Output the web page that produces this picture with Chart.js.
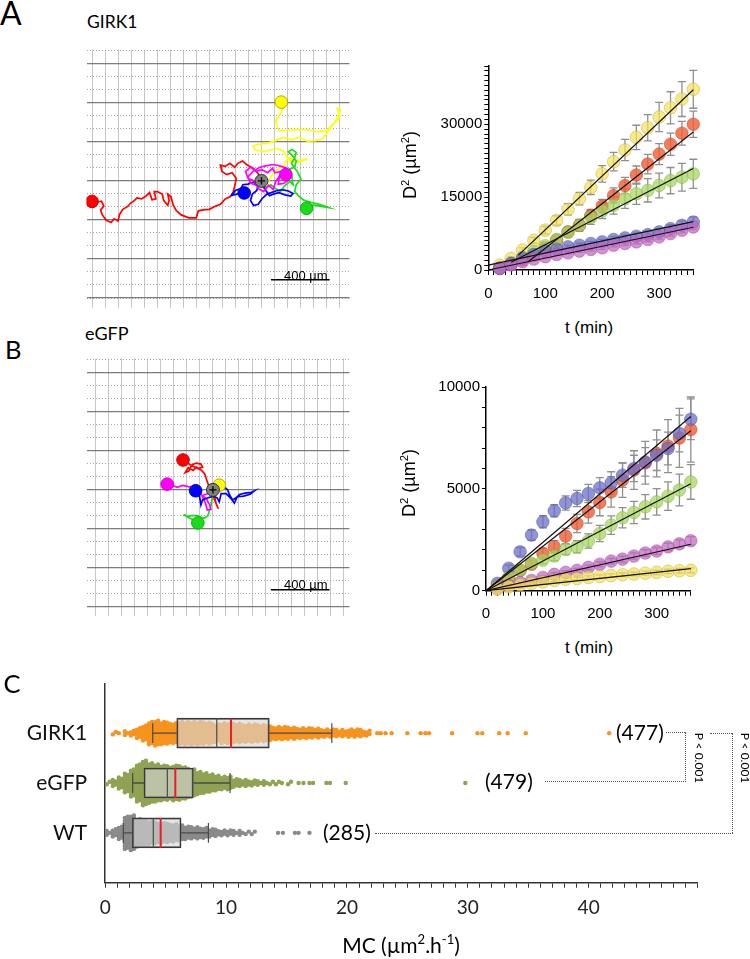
<!DOCTYPE html>
<html>
<head>
<meta charset="utf-8">
<title>GIRK1 / eGFP motility</title>
<script src="https://cdn.jsdelivr.net/npm/chart.js@4.4.1/dist/chart.umd.min.js"></script>
<style>
	body { margin: 0; width: 750px; height: 959px; position: relative; overflow: hidden; background: #fff; font-family: Lato, 'Liberation Sans', sans-serif; color: #000; }
	canvas { position: absolute; }
	.t { position: absolute; white-space: nowrap; line-height: 1; }
	.arial { font-family: 'Liberation Sans', Arial, sans-serif; }
	.c { transform: translate(-50%, -50%); }
	.up { transform: translate(-50%, -50%) rotate(-90deg); }
	.down { transform: translate(-50%, -50%) rotate(90deg); }
	.dl { position: absolute; border: 0 dotted #555; }
	sup { font-size: 0.62em; vertical-align: 0.62em; line-height: 0; }
</style>
</head>
<body>
<canvas id="trajA" width="278" height="273" style="left:79px;top:42px"></canvas>
<canvas id="msdA" width="315" height="255" style="left:395px;top:55px"></canvas>
<canvas id="trajB" width="278" height="272" style="left:79px;top:351px"></canvas>
<canvas id="msdB" width="315" height="255" style="left:395px;top:376px"></canvas>
<canvas id="mc" width="750" height="299" style="left:0;top:660px"></canvas>

<div class="t" style="left:0;top:-3.5px;font-size:32px">A</div>
<div class="t" style="left:87px;top:13px;font-size:17.5px">GIRK1</div>
<div class="t arial" style="left:284px;top:268.5px;font-size:13px">400 µm</div>
<div class="t arial up" style="left:409.5px;top:165px;font-size:18px">D<sup>2</sup> (µm<sup>2</sup>)</div>
<div class="t arial c" style="left:589px;top:326.5px;font-size:17px">t (min)</div>

<div class="t" style="left:5px;top:337.3px;font-size:25.5px">B</div>
<div class="t" style="left:85px;top:323.6px;font-size:18px">eGFP</div>
<div class="t arial" style="left:284px;top:578px;font-size:13px">400 µm</div>
<div class="t arial up" style="left:408.5px;top:482.7px;font-size:18px">D<sup>2</sup> (µm<sup>2</sup>)</div>
<div class="t arial c" style="left:589px;top:646.5px;font-size:17px">t (min)</div>

<div class="t" style="left:3.5px;top:670.6px;font-size:25.5px">C</div>
<div class="t" style="left:616px;top:720.7px;font-size:21px">(477)</div>
<div class="t" style="left:485px;top:770.2px;font-size:21px">(479)</div>
<div class="t" style="left:323px;top:821px;font-size:21px">(285)</div>
<div class="t down" style="left:699px;top:758px;font-size:12px">P &lt; 0.001</div>
<div class="t down" style="left:745px;top:758px;font-size:12px">P &lt; 0.001</div>
<div class="t c" style="left:401px;top:944.2px;font-size:21px">MC (µm<sup>2</sup>.h<sup>-1</sup>)</div>

<div class="dl" style="left:666px;top:732px;width:19px;border-top-width:1px"></div>
<div class="dl" style="left:685px;top:732px;height:50px;border-left-width:1px"></div>
<div class="dl" style="left:545px;top:781px;width:141px;border-top-width:1px"></div>
<div class="dl" style="left:710px;top:733px;width:22px;border-top-width:1px"></div>
<div class="dl" style="left:732px;top:733px;height:100px;border-left-width:1px"></div>
<div class="dl" style="left:375px;top:833px;width:358px;border-top-width:1px"></div>

<script>
Chart.defaults.font.family = "'Liberation Sans', Arial, sans-serif"
Chart.defaults.color = '#000'
Chart.defaults.animation = false
Chart.defaults.plugins.legend.display = false
Chart.defaults.plugins.tooltip.enabled = false

// ---- trajectories (um, origin = start point), last point = end circle ----
const A_RED_TRACK = [[0, 0], [-22, 50], [-54, 86], [-97, 108], [-129, 136], [-161, 120], [-183, 93], [-215, 120], [-247, 99], [-280, 108], [-269, 65], [-237, 43], [-200, 56], [-172, 17], [-183, -37], [-194, -80], [-215, -108], [-247, -123], [-280, -159], [-323, -176], [-355, -194], [-398, -198], [-430, -204], [-445, -252], [-495, -252], [-548, -232], [-581, -202], [-602, -166], [-617, -108], [-639, -90], [-630, -133], [-639, -166], [-667, -133], [-677, -90], [-710, -73], [-731, -73], [-720, -123], [-746, -129], [-763, -80], [-785, -101], [-817, -123], [-849, -116], [-871, -138], [-892, -151], [-914, -176], [-946, -194], [-968, -230], [-978, -273], [-1004, -258], [-1026, -284], [-1060, -267], [-1086, -230], [-1097, -198], [-1075, -172], [-1090, -138], [-1118, -144], [-1155, -140]]
const A_YEL_TRACK = [[0, 0], [32, -26], [65, 28], [97, 71], [151, 103], [183, 157], [237, 135], [312, 150], [258, 129], [194, 135], [151, 200], [108, 221], [65, 211], [11, 200], [-43, 211], [-58, 237], [-22, 249], [43, 258], [97, 275], [151, 297], [204, 280], [258, 297], [312, 271], [366, 275], [415, 286], [445, 323], [473, 366], [505, 404], [533, 430], [527, 469], [516, 495], [538, 486], [527, 447], [495, 393], [441, 344], [387, 335], [344, 344], [290, 350], [226, 350], [172, 344], [118, 344], [103, 383], [97, 415], [123, 447], [144, 490], [135, 538]]
const A_MAG_TRACK = [[0, 0], [-37, -30], [-75, -15], [-92, 28], [-58, 65], [-15, 92], [28, 103], [80, 112], [123, 103], [166, 90], [135, 65], [92, 56], [75, 86], [43, 56], [2, 77], [-37, 65], [-75, 95], [-108, 65], [-92, 17], [-49, 0], [-22, -52], [15, -73], [49, -30], [80, -58], [97, -4], [123, 34], [114, -22], [151, -17], [183, 6], [166, 43]]
const A_BLUE_TRACK = [[0, 0], [11, -37], [32, -69], [54, -101], [80, -90], [118, -80], [161, -95], [200, -103], [215, -86], [183, -69], [140, -60], [97, -69], [37, -90], [2, -123], [-22, -159], [-54, -168], [-75, -133], [-62, -90], [-32, -65], [-22, -26], [-54, -9], [-92, -22], [-127, -26], [-140, -52], [-178, -65], [-204, -99], [-166, -90], [-118, -82]]
const A_GREEN_TRACK = [[0, 0], [32, -47], [65, -26], [97, -52], [129, -73], [161, -30], [194, -4], [215, -26], [204, 49], [194, 82], [226, 92], [237, 135], [215, 168], [183, 200], [209, 215], [237, 194], [226, 157], [204, 120], [247, 60], [269, 13], [237, -26], [226, -73], [258, -108], [290, -133], [338, -146], [393, -159], [445, -176], [462, -183], [398, -172], [344, -163], [307, -187]]

const B_RED_TRACK = [[0, 0], [22, -97], [37, -129], [9, -65], [0, 0], [-28, 26], [-43, 69], [-56, 108], [-77, 133], [-114, 155], [-135, 133], [-168, 151], [-189, 118], [-163, 129], [-146, 168], [-114, 183], [-82, 176], [-71, 155], [-103, 146], [-157, 172], [-178, 189], [-204, 204]]
const B_MAG_TRACK = [[0, 0], [-39, -26], [-71, -39], [-43, -65], [-22, -103], [-13, -133], [-39, -138], [-49, -97], [-71, -47], [-103, 0], [-135, 17], [-168, 22], [-206, 30], [-243, 17], [-275, 30], [-312, 39]]
const B_BLUE_TRACK = [[0, 0], [37, 22], [73, 26], [101, 0], [112, -32], [133, -69], [155, -56], [181, -32], [219, -22], [262, -17], [280, -9], [254, -30], [209, -43], [166, -47], [146, -90], [120, -56], [90, -26], [56, -26], [43, -82], [30, -56], [4, -43], [-39, -56], [-71, -69], [-82, -103], [-92, -39], [-118, -6]]
const B_GREEN_TRACK = [[0, 0], [-6, -60], [-13, -108], [-26, -146], [-34, -176], [-60, -194], [-86, -185], [-112, -176], [-142, -176], [-172, -181], [-200, -168], [-168, -189], [-133, -206], [-103, -226]]
const B_YEL_TRACK = [[0, 0], [15, -32], [4, -65], [22, -54], [30, -22], [43, 32]]

const SCALE_BAR_UM = 400

// ---- mean square displacement, D2 (um2) at each time point ----
const T_MIN = [20, 40, 60, 80, 100, 120, 140, 160, 180, 200, 220, 240, 260, 280, 300, 320, 340, 360]

const A_YEL = [1000, 2400, 4100, 6100, 8200, 10200, 12500, 14700, 17000, 19800, 22300, 24700, 27300, 29300, 31500, 33400, 35200, 37200]
const A_RED = [340, 1160, 2040, 3070, 4570, 6130, 7840, 9200, 11250, 13160, 15340, 17380, 19560, 21810, 23860, 25900, 28160, 30000]
const A_GREEN = [400, 1400, 2600, 3800, 5000, 6300, 7800, 9200, 10800, 12200, 13300, 14700, 15700, 16400, 17400, 18400, 19100, 19800]
const A_BLUE = [340, 1360, 2390, 3200, 3890, 4230, 4770, 5110, 5450, 5790, 6270, 6610, 6950, 7290, 7840, 8520, 9200, 9880]
const A_MAG = [340, 1020, 1700, 2250, 2730, 3200, 3540, 3890, 4230, 4570, 5110, 5450, 5790, 6270, 6820, 7500, 8180, 8860]

const A_YEL_ERR = [150, 300, 450, 600, 800, 950, 1150, 1300, 1500, 1700, 1900, 2200, 2500, 2700, 3000, 3300, 3600, 3900]
const A_RED_ERR = [100, 200, 350, 500, 650, 800, 950, 1100, 1250, 1400, 1550, 1700, 1850, 2000, 2150, 2300, 2450, 2700]
const A_GREEN_ERR = [100, 250, 400, 550, 700, 850, 1000, 1200, 1400, 1600, 1800, 2000, 2200, 2400, 2550, 2700, 2850, 3000]
const A_BLUE_ERR = [50, 100, 150, 200, 250, 300, 350, 400, 450, 500, 550, 600, 650, 700, 750, 800, 900, 1000]
const A_MAG_ERR = [50, 80, 110, 140, 170, 200, 230, 260, 290, 320, 350, 380, 410, 440, 470, 500, 530, 560]

// linear fits [[t start, D2], [t end, D2]]
const A_YEL_FIT = [[53, 3070], [360, 37100]]
const A_RED_FIT = [[70, 1700], [360, 28400]]
const A_GREEN_FIT = [[40, 1600], [360, 20900]]
const A_BLUE_FIT = [[0, 1000], [360, 9950]]
const A_MAG_FIT = [[0, 0], [360, 8800]]

const B_BLUE = [360, 1100, 1910, 2730, 3380, 3920, 4310, 4530, 4770, 5050, 5290, 5670, 6000, 6320, 6650, 6980, 7720, 8420]
const B_RED = [200, 600, 1000, 1300, 1830, 2160, 2680, 3300, 3870, 4330, 4850, 5430, 5920, 6280, 6740, 7100, 7500, 7910]
const B_GREEN = [200, 660, 1010, 1340, 1500, 1700, 2030, 2160, 2440, 2810, 3220, 3580, 3840, 4120, 4360, 4640, 4940, 5340]
const B_MAG = [100, 250, 400, 500, 650, 800, 900, 1000, 1150, 1300, 1450, 1550, 1700, 1850, 1950, 2150, 2300, 2450]
const B_YEL = [80, 190, 280, 360, 430, 500, 560, 600, 650, 700, 740, 780, 820, 860, 900, 950, 980, 1000]

const B_BLUE_ERR = [100, 150, 200, 250, 300, 300, 350, 400, 450, 500, 550, 600, 650, 700, 750, 800, 900, 1000]
const B_RED_ERR = [80, 120, 160, 200, 250, 300, 380, 450, 550, 650, 750, 850, 950, 1050, 1150, 1300, 1450, 1600]
const B_GREEN_ERR = [60, 90, 120, 150, 180, 220, 260, 300, 350, 400, 450, 500, 550, 600, 650, 700, 780, 850]
const B_MAG_ERR = [30, 40, 50, 60, 70, 80, 90, 100, 110, 120, 130, 140, 150, 160, 170, 180, 190, 200]
const B_YEL_ERR = [20, 30, 40, 50, 55, 60, 65, 70, 75, 80, 85, 90, 95, 100, 105, 110, 115, 120]

const B_BLUE_FIT = [[0, 0], [360, 8550]]
const B_RED_FIT = [[0, 0], [360, 7850]]
const B_GREEN_FIT = [[0, 0], [360, 5250]]
const B_MAG_FIT = [[0, 0], [360, 2280]]
const B_YEL_FIT = [[0, 0], [360, 1080]]

const MSD_X_LABELS = [0, 100, 200, 300]
const A_Y_LABELS = [0, 15000, 30000]
const B_Y_LABELS = [0, 5000, 10000]

// ---- MC distributions: counts per 0.5 bin from 0, then single far points ----
const MC_BIN = 0.5
const GIRK1_COUNTS = [0, 2, 1, 3, 4, 8, 12, 18, 20, 18, 17, 16, 18, 18, 18, 18, 17, 17, 14, 16, 16, 15, 15, 14, 14, 13, 13, 11, 10, 10, 9, 9, 8, 8, 7, 7, 6, 6, 5, 5, 6, 6, 5, 4]
const GIRK1_FAR = [22.5, 22.8, 23.2, 23.7, 25.0, 26.1, 26.5, 26.8, 28.7, 30.8, 31.2, 32.6, 33.3, 34.8, 41.7]
const EGFP_COUNTS = [2, 5, 9, 15, 22, 30, 36, 32, 30, 28, 27, 28, 27, 25, 22, 18, 16, 14, 12, 10, 10, 6, 5, 5, 4, 3, 3, 2, 2, 1, 2]
const EGFP_FAR = [16.0, 16.4, 16.9, 17.2, 18.3, 18.6, 19.9, 29.8]
const WT_COUNTS = [3, 6, 10, 26, 28, 22, 20, 18, 17, 16, 15, 14, 12, 10, 9, 9, 8, 6, 5, 4, 4, 3, 3, 2, 2]
const WT_FAR = [14.3, 14.7, 15.7, 16.0, 16.9]

// whisker low, Q1, median, mean, Q3, whisker high
const GIRK1_STATS = [3.93, 5.92, 9.23, 10.41, 13.58, 18.75]
const EGFP_STATS = [2.27, 3.21, 5.14, 5.80, 7.29, 10.33]
const WT_STATS = [1.5, 2.25, 3.98, 4.59, 6.28, 8.54]

const MC_GROUPS = ['GIRK1', 'eGFP', 'WT']
const MC_X_LABELS = [0, 10, 20, 30, 40]

// ------------------------------------------------------------

const GRID_UM = 88.8

function gridTicks (min, max, every) {
	const out = []
	for (let k = Math.ceil(min / GRID_UM); k <= Math.floor(max / GRID_UM); k++) {
		if (k % every === 0) out.push({ value: k * GRID_UM })
	}
	return out
}

function xy (p) {
	return { x: p[0], y: p[1] }
}

function trackChart (id, range, tracks, bar) {
	const datasets = []
	tracks.forEach(tr => {
		datasets.push({
			data: tr.points.map(xy), showLine: true, borderColor: tr.color, borderWidth: 1.7,
			pointRadius: 0, order: tr.order
		})
		datasets.push({
			data: [xy(tr.points[tr.points.length - 1])], pointRadius: 6.3,
			backgroundColor: tr.color, borderColor: tr.edge, borderWidth: 1, order: 2
		})
	})
	datasets.push({ data: [{ x: 0, y: 0 }], pointRadius: 6.5, backgroundColor: '#808080', borderColor: '#333', borderWidth: 1, order: 1 })
	datasets.push({ data: [{ x: 0, y: 0 }], pointStyle: 'cross', pointRadius: 3.6, borderColor: '#000', borderWidth: 1.3, order: 0 })
	datasets.push({
		data: [{ x: bar[0], y: bar[1] }, { x: bar[0] + SCALE_BAR_UM, y: bar[1] }],
		showLine: true, borderColor: '#000', borderWidth: 1.5, pointRadius: 0, order: 0
	})

	const hidden = { display: false }
	new Chart(document.getElementById(id), {
		type: 'scatter',
		data: { datasets },
		options: {
			responsive: false,
			layout: { padding: 0 },
			scales: {
				x: {
					min: range.x[0], max: range.x[1],
					afterBuildTicks: s => { s.ticks = gridTicks(range.x[0], range.x[1], 1) },
					ticks: hidden,
					grid: { color: '#c6c6c6', lineWidth: 1, drawTicks: false },
					border: { display: false }
				},
				y: {
					min: range.y[0], max: range.y[1],
					afterBuildTicks: s => { s.ticks = gridTicks(range.y[0], range.y[1], 1) },
					ticks: hidden,
					grid: { color: '#a4a4a4', lineWidth: 1, drawTicks: false },
					border: { display: false, dash: [1, 2] }
				},
				yMaj: {
					type: 'linear', position: 'left', min: range.y[0], max: range.y[1],
					afterBuildTicks: s => { s.ticks = gridTicks(range.y[0], range.y[1], 3) },
					ticks: hidden,
					grid: { color: '#7c7c7c', lineWidth: 1.2, drawTicks: false },
					border: { display: false }
				}
			}
		}
	})
}

trackChart('trajA', { x: [-1193, 600], y: [-864, 897] }, [
	{ points: A_YEL_TRACK, color: '#ffff00', edge: '#b8a600', order: 8 },
	{ points: A_RED_TRACK, color: '#ff0000', edge: '#d00000', order: 7 },
	{ points: A_GREEN_TRACK, color: '#19dd19', edge: '#10b010', order: 6 },
	{ points: A_BLUE_TRACK, color: '#0000ff', edge: '#0000c0', order: 5 },
	{ points: A_MAG_TRACK, color: '#ff00ff', edge: '#d000d0', order: 4 }
], [64.5, -675])

trackChart('trajB', { x: [-862, 931], y: [-858, 897] }, [
	{ points: B_YEL_TRACK, color: '#ffff00', edge: '#b8a600', order: 8 },
	{ points: B_GREEN_TRACK, color: '#19dd19', edge: '#10b010', order: 7 },
	{ points: B_RED_TRACK, color: '#ff0000', edge: '#d00000', order: 6 },
	{ points: B_MAG_TRACK, color: '#ff00ff', edge: '#d000d0', order: 5 },
	{ points: B_BLUE_TRACK, color: '#0000ff', edge: '#0000c0', order: 4 }
], [395, -682])

// error bars drawn under the points, through the chart scales
const errorBars = {
	id: 'errorBars',
	beforeDatasetsDraw (chart) {
		const { ctx, scales: { x, y } } = chart
		ctx.save()
		ctx.strokeStyle = '#8f8f8f'
		ctx.lineWidth = 1.3
		chart.data.datasets.forEach(ds => {
			if (!ds.err) return
			ds.data.forEach((p, i) => {
				const px = x.getPixelForValue(p.x)
				const lo = y.getPixelForValue(p.y - ds.err[i])
				const hi = y.getPixelForValue(p.y + ds.err[i])
				ctx.beginPath()
				ctx.moveTo(px, lo)
				ctx.lineTo(px, hi)
				ctx.moveTo(px - 4, lo)
				ctx.lineTo(px + 4, lo)
				ctx.moveTo(px - 4, hi)
				ctx.lineTo(px + 4, hi)
				ctx.stroke()
			})
		})
		ctx.restore()
	}
}

const COLORS = {
	yellow: ['rgba(245,226,90,0.72)', 'rgba(185,165,40,0.55)'],
	red: ['rgba(240,95,55,0.82)', 'rgba(190,60,30,0.55)'],
	green: ['rgba(165,215,95,0.75)', 'rgba(120,170,60,0.55)'],
	blue: ['rgba(105,110,200,0.74)', 'rgba(70,75,160,0.55)'],
	magenta: ['rgba(195,105,195,0.74)', 'rgba(150,70,150,0.55)']
}

function msdChart (id, cfg) {
	const datasets = []
	cfg.series.forEach(s => {
		datasets.push({
			data: s.fit.map(xy), showLine: true, borderColor: '#111', borderWidth: 1.2,
			pointRadius: 0, order: 0, clip: false
		})
		datasets.push({
			data: T_MIN.map((t, i) => ({ x: t, y: s.values[i] })), err: s.err,
			backgroundColor: COLORS[s.color][0], borderColor: COLORS[s.color][1], borderWidth: 0.8,
			pointRadius: 6.3, order: s.order, clip: false
		})
	})
	const xTicks = []
	for (let v = 0; v <= 360; v += 10) xTicks.push({ value: v })
	const yTicks = []
	for (let v = 0; v <= cfg.yMax; v += 1000) yTicks.push({ value: v })

	new Chart(document.getElementById(id), {
		type: 'scatter',
		data: { datasets },
		plugins: [errorBars],
		options: {
			responsive: false,
			layout: { padding: { left: 0, right: cfg.padRight, top: cfg.padTop, bottom: 0 } },
			scales: {
				x: {
					min: 0, max: 360, offset: false,
					afterBuildTicks: s => { s.ticks = xTicks },
					afterFit: s => { s.height = cfg.xHeight },
					ticks: {
						autoSkip: false, maxRotation: 0, padding: 9.5, font: { size: 15 },
						callback: v => MSD_X_LABELS.includes(v) ? v : ''
					},
					grid: { drawOnChartArea: false, tickLength: 5, color: '#000' },
					border: { color: '#000', width: 1.5 }
				},
				y: {
					min: 0, max: cfg.yMax, offset: false,
					afterBuildTicks: s => { s.ticks = yTicks },
					afterFit: s => { s.width = cfg.yWidth },
					ticks: {
						autoSkip: false, padding: 2, font: { size: 15 },
						callback: v => cfg.yLabels.includes(v) ? v : ''
					},
					grid: { drawOnChartArea: false, tickLength: 4, color: '#000' },
					border: { color: '#000', width: 1.5 }
				}
			}
		}
	})
}

msdChart('msdA', {
	yMax: 42000, yLabels: A_Y_LABELS, yWidth: 93.3, xHeight: 40, padTop: 9.7, padRight: 16.7,
	series: [
		{ values: A_YEL, err: A_YEL_ERR, fit: A_YEL_FIT, color: 'yellow', order: 6 },
		{ values: A_RED, err: A_RED_ERR, fit: A_RED_FIT, color: 'red', order: 5 },
		{ values: A_GREEN, err: A_GREEN_ERR, fit: A_GREEN_FIT, color: 'green', order: 4 },
		{ values: A_BLUE, err: A_BLUE_ERR, fit: A_BLUE_FIT, color: 'blue', order: 3 },
		{ values: A_MAG, err: A_MAG_ERR, fit: A_MAG_FIT, color: 'magenta', order: 2 }
	]
})

msdChart('msdB', {
	yMax: 10000, yLabels: B_Y_LABELS, yWidth: 91, xHeight: 40.3, padTop: 10.7, padRight: 19.2,
	series: [
		{ values: B_RED, err: B_RED_ERR, fit: B_RED_FIT, color: 'red', order: 6 },
		{ values: B_BLUE, err: B_BLUE_ERR, fit: B_BLUE_FIT, color: 'blue', order: 5 },
		{ values: B_GREEN, err: B_GREEN_ERR, fit: B_GREEN_FIT, color: 'green', order: 4 },
		{ values: B_MAG, err: B_MAG_ERR, fit: B_MAG_FIT, color: 'magenta', order: 3 },
		{ values: B_YEL, err: B_YEL_ERR, fit: B_YEL_FIT, color: 'yellow', order: 2 }
	]
})

// ---- panel C ----
const ROW_OF = { GIRK1: 3, eGFP: 2, WT: 1 }
const SPREAD = 0.0124 // half height of a swarm column per dot, in row units

function swarm (counts, far, row) {
	const pts = []
	counts.forEach((c, b) => {
		const h = c * SPREAD
		for (let j = 0; j < c; j++) {
			const off = c > 1 ? (2 * j / (c - 1) - 1) * h : 0
			pts.push({ x: b * MC_BIN + (j % 2 ? 0.375 : 0.125), y: row + off })
		}
	})
	far.forEach(v => pts.push({ x: v, y: row }))
	return pts
}

function seg (x1, y1, x2, y2, color, width, order) {
	return {
		data: [{ x: x1, y: y1 }, { x: x2, y: y2 }], showLine: true, borderColor: color,
		borderWidth: width, pointRadius: 0, order
	}
}

const mcSets = []
const boxes = []
const groups = [
	{ name: 'GIRK1', counts: GIRK1_COUNTS, far: GIRK1_FAR, stats: GIRK1_STATS, color: '#f7931e' },
	{ name: 'eGFP', counts: EGFP_COUNTS, far: EGFP_FAR, stats: EGFP_STATS, color: '#8fa352' },
	{ name: 'WT', counts: WT_COUNTS, far: WT_FAR, stats: WT_STATS, color: '#8a8a8a' }
]
groups.forEach(g => {
	const r = ROW_OF[g.name]
	const [wlo, q1, med, mean, q3, whi] = g.stats
	mcSets.push({ data: swarm(g.counts, g.far, r), pointRadius: 2.2, borderWidth: 0, backgroundColor: g.color, order: 6 })
	boxes.push({ y: r, x: [q1, q3] })
	mcSets.push(seg(wlo, r, q1, r, '#4a4a4a', 1.4, 3))
	mcSets.push(seg(q3, r, whi, r, '#4a4a4a', 1.4, 3))
	mcSets.push(seg(wlo, r - 0.2, wlo, r + 0.2, '#4a4a4a', 1.2, 3))
	mcSets.push(seg(whi, r - 0.2, whi, r + 0.2, '#4a4a4a', 1.2, 3))
	mcSets.push(seg(med, r - 0.3, med, r + 0.3, '#4a4a4a', 1.2, 2))
	mcSets.push(seg(mean, r - 0.3, mean, r + 0.3, '#ee1c25', 2, 1))
})
mcSets.push({
	type: 'bar', indexAxis: 'y', data: boxes, barThickness: 30, grouped: false,
	backgroundColor: 'rgba(214,214,214,0.62)', borderColor: '#3a3a3a', borderWidth: 1.5,
	borderSkipped: false, order: 4
})

const mcXTicks = []
for (let v = 0; v <= 49; v++) mcXTicks.push({ value: v })

new Chart(document.getElementById('mc'), {
	type: 'scatter',
	data: { datasets: mcSets },
	options: {
		responsive: false,
		layout: { padding: { left: 0, right: 52.6, top: 23.3, bottom: 0 } },
		scales: {
			x: {
				type: 'linear', min: 0, max: 49, offset: false,
				afterBuildTicks: s => { s.ticks = mcXTicks },
				afterFit: s => { s.height = 76.3 },
				ticks: {
					autoSkip: false, maxRotation: 0, padding: 9.2, color: '#222',
					font: { family: 'Lato', size: 19 },
					callback: v => MC_X_LABELS.includes(v) ? v : ''
				},
				grid: { drawOnChartArea: false, tickLength: 5, color: '#333', offset: false },
				border: { color: '#333', width: 1.5 }
			},
			y: {
				type: 'linear', min: 0, max: 4, offset: false,
				afterBuildTicks: s => { s.ticks = MC_GROUPS.map(n => ({ value: ROW_OF[n] })) },
				afterFit: s => { s.width = 105.2 },
				ticks: {
					padding: 10, color: '#111', font: { family: 'Lato', size: 21 },
					callback: v => MC_GROUPS.find(n => ROW_OF[n] === v) || ''
				},
				grid: { display: false, offset: false },
				border: { color: '#333', width: 1.5 }
			}
		}
	}
})
</script>
</body>
</html>
